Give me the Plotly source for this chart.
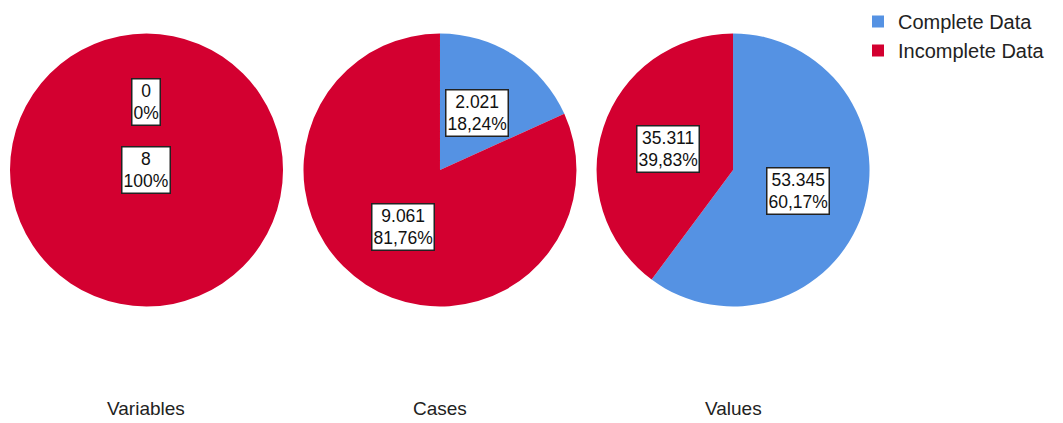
import math
import plotly.graph_objects as go

# ---- data ----
categories = ["Complete Data", "Incomplete Data"]
pie_titles = ["Variables", "Cases", "Values"]
variables_values = [0, 8]
cases_values = [2021, 9061]
values_values = [53345, 35311]

colors = ["#5592E3", "#D30030"]

W, H = 1063, 423
# pie domains (paper coords)
domains_x = [[0.0094, 0.2662], [0.2855, 0.5423], [0.5612, 0.8180]]
domain_y = [0.2754, 0.9208]

all_values = [variables_values, cases_values, values_values]
FONT = "Liberation Sans, Arial, sans-serif"


def fmt_int(v):
    return f"{v:,}".replace(",", ".")


def fmt_pct(p):
    if abs(p - round(p)) < 1e-9:
        return f"{int(round(p))}%"
    return f"{p:.2f}".replace(".", ",") + "%"


fig = go.Figure()
annotations = []
for i, (vals, dx) in enumerate(zip(all_values, domains_x)):
    fig.add_trace(go.Pie(
        labels=categories,
        values=vals,
        domain=dict(x=dx, y=domain_y),
        sort=False,
        direction="clockwise",
        rotation=0,
        marker=dict(colors=colors, line=dict(width=0)),
        textinfo="none",
        hoverinfo="label+value+percent",
        showlegend=(i == 0),
    ))
    # label boxes derived from data
    total = sum(vals)
    cx = (dx[0] + dx[1]) / 2 * W
    cy_paper = (domain_y[0] + domain_y[1]) / 2
    cy = (1 - cy_paper) * H
    R = (dx[1] - dx[0]) / 2 * W
    cum = 0.0
    for v in vals:
        frac = v / total
        mid = (cum + frac / 2) * 2 * math.pi
        cum += frac
        r = 0 if frac >= 0.999 else 0.5 * R
        px = cx + r * math.sin(mid)
        py = cy - r * math.cos(mid)
        annotations.append(dict(
            x=px / W, y=1 - py / H, xref="paper", yref="paper",
            text=f"{fmt_int(v)}<br>{fmt_pct(frac * 100)}",
            showarrow=False, align="center",
            font=dict(family=FONT, size=17.5, color="#111"),
            bgcolor="white", bordercolor="#222", borderwidth=1.5, borderpad=1,
            xanchor="center", yanchor="middle",
        ))
    # title under each pie
    annotations.append(dict(
        x=(dx[0] + dx[1]) / 2, y=(H - 408) / H, xref="paper", yref="paper",
        text=pie_titles[i], showarrow=False,
        font=dict(family=FONT, size=19, color="#222"),
        xanchor="center", yanchor="middle",
    ))

fig.update_layout(
    width=W, height=H,
    margin=dict(l=0, r=0, t=0, b=0),
    paper_bgcolor="white",
    plot_bgcolor="white",
    annotations=annotations,
    legend=dict(
        x=858 / W, y=1 - 2 / H, xanchor="left", yanchor="top",
        font=dict(family=FONT, size=20, color="#222"),
        tracegroupgap=0, itemwidth=30,
        bgcolor="rgba(0,0,0,0)",
    ),
)

fig.write_html("out.html", config={"displayModeBar": False},
               post_script="document.body.style.margin='0';")
